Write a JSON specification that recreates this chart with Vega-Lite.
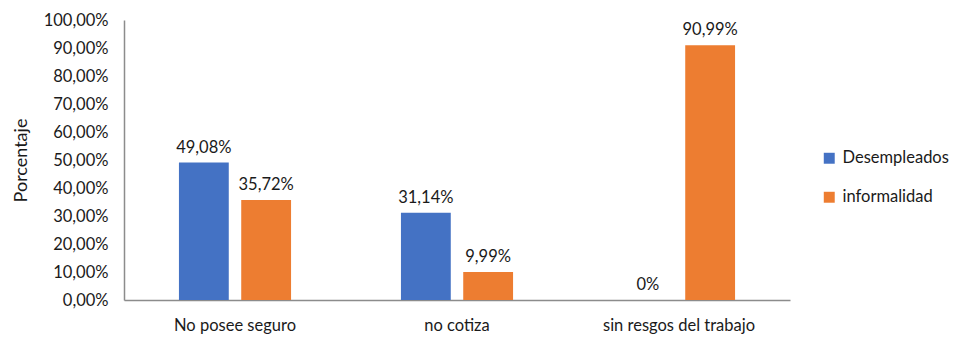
{
  "$schema": "https://vega.github.io/schema/vega-lite/v6.json",
  "width": 666,
  "height": 280,
  "autosize": "none",
  "padding": {"left": 124, "top": 20, "right": 165, "bottom": 37},
  "background": "white",
  "data": {
    "values": [
      {"categoria": "No posee seguro", "grupo": "Desempleados", "valor": 49.08},
      {"categoria": "No posee seguro", "grupo": "informalidad", "valor": 35.72},
      {"categoria": "no cotiza", "grupo": "Desempleados", "valor": 31.14},
      {"categoria": "no cotiza", "grupo": "informalidad", "valor": 9.99},
      {"categoria": "sin resgos del trabajo", "grupo": "Desempleados", "valor": 0},
      {"categoria": "sin resgos del trabajo", "grupo": "informalidad", "valor": 90.99}
    ]
  },
  "transform": [
    {"calculate": "datum.valor == 0 ? '0%' : replace(format(datum.valor, '.2f'), '.', ',') + '%'", "as": "etiqueta"}
  ],
  "encoding": {
    "x": {
      "field": "categoria",
      "type": "nominal",
      "sort": null,
      "scale": {"paddingInner": 0.495, "paddingOuter": 0.2475},
      "axis": {
        "title": null,
        "labelAngle": 0,
        "labelFontSize": 16.5,
        "labelColor": "#1a1a1a",
        "labelPadding": 17,
        "ticks": false,
        "domainColor": "#8c8c8c",
        "domainWidth": 1.5
      }
    },
    "xOffset": {
      "field": "grupo",
      "type": "nominal",
      "scale": {"paddingInner": 0.2, "paddingOuter": 0}
    },
    "y": {
      "field": "valor",
      "type": "quantitative",
      "scale": {"domain": [0, 100], "nice": false},
      "axis": {
        "title": "Porcentaje",
        "titleFontSize": 18,
        "titleFontWeight": "normal",
        "titleColor": "#1a1a1a",
        "titlePadding": 13,
        "values": [0, 10, 20, 30, 40, 50, 60, 70, 80, 90, 100],
        "labelExpr": "replace(format(datum.value, '.2f'), '.', ',') + '%'",
        "labelFontSize": 16.5,
        "labelColor": "#1a1a1a",
        "labelPadding": 16,
        "ticks": false,
        "grid": false,
        "domainColor": "#8c8c8c",
        "domainWidth": 1.5
      }
    }
  },
  "layer": [
    {
      "mark": {"type": "bar"},
      "encoding": {
        "color": {
          "field": "grupo",
          "type": "nominal",
          "scale": {"domain": ["Desempleados", "informalidad"], "range": ["#4472C4", "#ED7D31"]},
          "legend": {
            "title": null,
            "orient": "none",
            "legendX": 697,
            "legendY": 130,
            "symbolType": "square",
            "symbolSize": 120,
            "symbolStrokeWidth": 0,
            "labelFontSize": 16.5,
            "labelColor": "#1a1a1a",
            "labelOffset": 5,
            "rowPadding": 22
          }
        }
      }
    },
    {
      "mark": {"type": "text", "baseline": "bottom", "dy": -7, "fontSize": 16.5, "color": "#1a1a1a"},
      "encoding": {
        "text": {"field": "etiqueta"}
      }
    }
  ],
  "config": {
    "font": "Lato",
    "view": {"stroke": null}
  }
}
